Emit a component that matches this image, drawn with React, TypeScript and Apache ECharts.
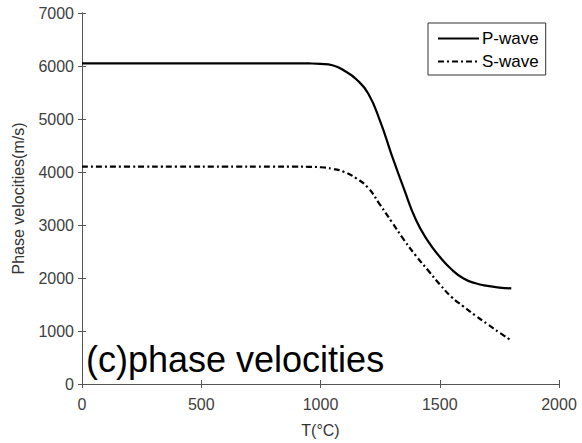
import React, { useEffect, useRef } from "react";
import * as echarts from "echarts";

const temperatures = [0, 200, 400, 600, 800, 900, 950, 1000, 1050, 1100, 1150, 1200, 1250, 1300, 1350, 1400, 1450, 1500, 1550, 1600, 1650, 1700, 1750, 1800];
const pWave = [6050, 6050, 6050, 6050, 6050, 6050, 6048, 6040, 6015, 5910, 5750, 5480, 4960, 4300, 3680, 3100, 2700, 2400, 2160, 1990, 1900, 1850, 1820, 1805];
const sWave = [4100, 4100, 4100, 4100, 4100, 4100, 4098, 4090, 4060, 4000, 3880, 3700, 3380, 3050, 2720, 2420, 2150, 1880, 1640, 1460, 1290, 1130, 970, 820];
const seriesNames = ["P-wave", "S-wave"];
const xAxisName = "T(°C)";
const yAxisName = "Phase velocities(m/s)";
const panelLabel = "(c)phase velocities";

const FONT = "'Liberation Sans', Arial, Helvetica, sans-serif";

export default function App() {
  const ref = useRef<HTMLDivElement>(null);
  useEffect(() => {
    document.body.style.margin = "0";
    if (!ref.current) return;
    const chart = echarts.init(ref.current, undefined, { renderer: "svg" });
    const axisLine = { show: true, lineStyle: { color: "#555", width: 1 } };
    const tick = { show: true, inside: true, length: 4, lineStyle: { color: "#555" } };
    const label = { color: "#404040", fontSize: 16, fontFamily: FONT, formatter: (v: number) => String(v) };
    chart.setOption({
      animation: false,
      backgroundColor: "#fff",
      grid: { left: 82, right: 23, top: 13, bottom: 57, containLabel: false },
      legend: {
        orient: "vertical",
        left: 428,
        top: 23,
        padding: [7, 7, 5, 9],
        itemGap: 6,
        itemWidth: 41,
        itemHeight: 14,
        itemStyle: { opacity: 0, borderWidth: 0 },
        borderColor: "#333",
        borderWidth: 1,
        borderRadius: 0,
        backgroundColor: "#fff",
        textStyle: { color: "#000", fontSize: 17, fontFamily: FONT, lineHeight: 16, padding: [0, 0, 0, -2] },
        data: seriesNames,
      },
      xAxis: [
        {
          type: "value",
          min: 0,
          max: 2000,
          interval: 500,
          position: "bottom",
          name: xAxisName,
          nameLocation: "middle",
          nameGap: 38,
          nameTextStyle: { color: "#333", fontSize: 16, fontFamily: FONT },
          axisLine,
          axisTick: tick,
          axisLabel: { ...label, margin: 12 },
          splitLine: { show: false },
        },
        {
          type: "value",
          min: 0,
          max: 2000,
          interval: 500,
          position: "top",
          axisLine,
          axisTick: tick,
          axisLabel: { show: false },
          splitLine: { show: false },
        },
      ],
      yAxis: [
        {
          type: "value",
          min: 0,
          max: 7000,
          interval: 1000,
          position: "left",
          name: yAxisName,
          nameLocation: "middle",
          nameGap: 56,
          nameTextStyle: { color: "#333", fontSize: 16, fontFamily: FONT },
          axisLine,
          axisTick: tick,
          axisLabel: { ...label, margin: 8 },
          splitLine: { show: false },
        },
        {
          type: "value",
          min: 0,
          max: 7000,
          interval: 1000,
          position: "right",
          axisLine,
          axisTick: tick,
          axisLabel: { show: false },
          splitLine: { show: false },
        },
      ],
      series: [
        {
          name: seriesNames[0],
          type: "line",
          data: temperatures.map((t, i) => [t, pWave[i]]),
          smooth: 0.5,
          symbol: "none",
          showSymbol: false,
          lineStyle: { color: "#000", width: 2.2, type: "solid" },
          itemStyle: { color: "#000" },
        },
        {
          name: seriesNames[1],
          type: "line",
          data: temperatures.map((t, i) => [t, sWave[i]]),
          smooth: 0.5,
          symbol: "none",
          showSymbol: false,
          lineStyle: { color: "#000", width: 2.2, type: [6, 3, 2, 3] },
          itemStyle: { color: "#000" },
        },
      ],
      graphic: [
        {
          type: "text",
          left: 86,
          top: 341,
          style: { text: panelLabel, font: `36px ${FONT}`, fill: "#000" },
          z: 10,
        },
      ],
    });
    return () => chart.dispose();
  }, []);
  return <div ref={ref} style={{ width: 582, height: 443 }} />;
}
